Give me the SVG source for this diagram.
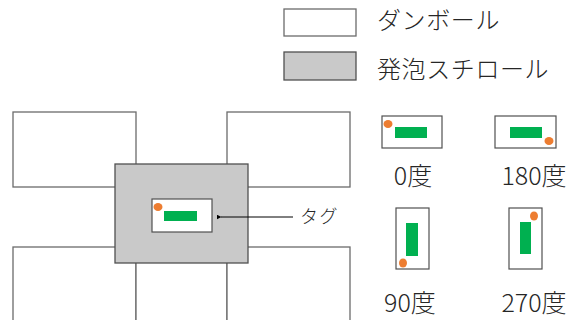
<svg xmlns="http://www.w3.org/2000/svg" width="576" height="320" viewBox="0 0 576 320">
<defs>
<style>
.box{fill:#fff;stroke:#6b6b6b;stroke-width:1.3}
.foam{fill:#c9c9c9;stroke:#505050;stroke-width:1.3}
.tag{fill:#fff;stroke:#505050;stroke-width:1.2}
.grn{fill:#00b050}
.org{fill:#ed7d31}
.t{font-family:"Noto Sans CJK JP","Noto Sans",sans-serif;font-weight:300;fill:#262626}
</style>
<marker id="ah" viewBox="0 0 10 10" refX="1" refY="5" markerWidth="5" markerHeight="5" orient="auto-start-reverse">
<path d="M10,0 L0,5 L10,10 z" fill="#000"/>
</marker>
</defs>
<g id="legend">
<rect class="box" x="284" y="9" width="72" height="27"/>
<text class="t" x="377" y="29" font-size="24" letter-spacing="0.6">ダンボール</text>
<rect class="foam" x="284" y="52" width="72" height="28"/>
<text class="t" x="377" y="78" font-size="24" letter-spacing="0.6">発泡スチロール</text>
</g>
<g id="cardboard-boxes">
<rect class="box" x="13" y="112" width="123" height="75"/>
<rect class="box" x="227" y="112" width="123" height="75"/>
<rect class="box" x="13" y="247" width="123" height="80"/>
<rect class="box" x="136" y="247" width="91" height="80"/>
<rect class="box" x="227" y="247" width="123" height="80"/>
</g>
<g id="foam">
<rect class="foam" x="115" y="164" width="133" height="99"/>
</g>
<g id="tag-main">
<rect class="tag" x="152" y="199" width="60" height="33"/>
<ellipse class="org" cx="158" cy="207" rx="4.5" ry="4"/>
<rect class="grn" x="164" y="211" width="33" height="10"/>
</g>
<g id="connectors">
<line x1="293" y1="217" x2="221" y2="217" stroke="#000" stroke-width="1" marker-end="url(#ah)"/>
</g>
<g id="tag-label">
<text class="t" x="300" y="223" font-size="18" letter-spacing="1.5">タグ</text>
</g>
<g id="deg0">
<rect class="tag" x="382" y="116" width="60" height="32"/>
<ellipse class="org" cx="388" cy="124" rx="4.5" ry="4"/>
<rect class="grn" x="395" y="127" width="32" height="11"/>
<text class="t" x="413" y="185" font-size="25" text-anchor="middle">0度</text>
</g>
<g id="deg180">
<rect class="tag" x="495" y="116" width="61" height="32"/>
<ellipse class="org" cx="549" cy="141" rx="4.5" ry="4"/>
<rect class="grn" x="510" y="127" width="32" height="11"/>
<text class="t" x="534" y="185" font-size="25" text-anchor="middle">180度</text>
</g>
<g id="deg90">
<rect class="tag" x="396" y="208" width="33" height="61"/>
<ellipse class="org" cx="403" cy="263" rx="4" ry="4.5"/>
<rect class="grn" x="406" y="223" width="12" height="33"/>
<text class="t" x="410" y="312" font-size="25" text-anchor="middle">90度</text>
</g>
<g id="deg270">
<rect class="tag" x="509" y="208" width="33" height="61"/>
<ellipse class="org" cx="534" cy="216" rx="4" ry="4.5"/>
<rect class="grn" x="520" y="222" width="11" height="32"/>
<text class="t" x="534" y="312" font-size="25" text-anchor="middle">270度</text>
</g>
</svg>
